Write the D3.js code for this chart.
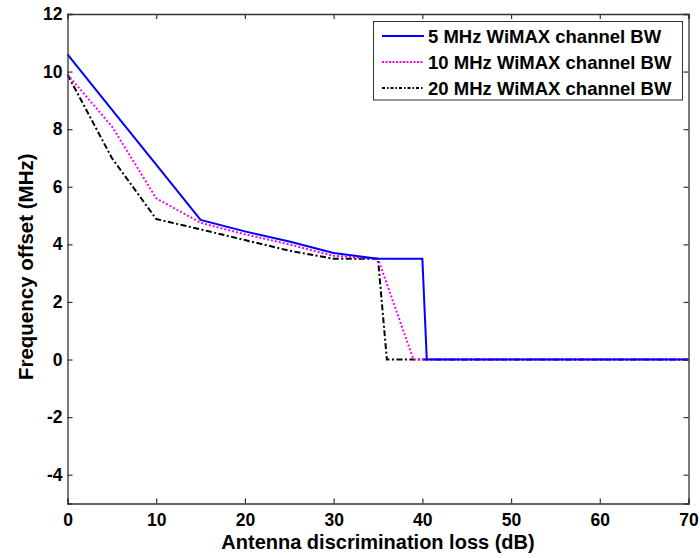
<!DOCTYPE html>
<html>
<head>
<meta charset="utf-8">
<script src="https://cdn.jsdelivr.net/npm/d3@7"></script>
<style>
  html, body { margin: 0; padding: 0; background: #fff; }
  svg { display: block; }
  text { font-family: "Liberation Sans", Arial, sans-serif; font-weight: bold; fill: #000; }
</style>
</head>
<body>
<svg id="chart" width="700" height="558"></svg>
<script>
// ---- data ----
const seriesNames = ["5 MHz WiMAX channel BW", "10 MHz WiMAX channel BW", "20 MHz WiMAX channel BW"];
const x5  = [0, 5, 10, 15, 20, 25, 30, 35, 40, 40.5, 70];
const y5  = [10.6, 8.68, 6.77, 4.85, 4.45, 4.1, 3.7, 3.5, 3.5, 0, 0];
const x10 = [0, 5, 10, 15, 20, 25, 30, 35, 39, 70];
const y10 = [9.9, 8.1, 5.6, 4.75, 4.35, 4.0, 3.6, 3.5, 0, 0];
const x20 = [0, 5, 10, 15, 20, 25, 30, 35, 36, 70];
const y20 = [9.9, 7.0, 4.88, 4.52, 4.15, 3.78, 3.5, 3.5, 0, 0];
const xTicks = [0, 10, 20, 30, 40, 50, 60, 70];
const yTicks = [-4, -2, 0, 2, 4, 6, 8, 10, 12];
const xLabel = "Antenna discrimination loss (dB)";
const yLabel = "Frequency offset (MHz)";

// ---- layout ----
const svg = d3.select("#chart");
const L = 67.5, R = 688.5, T = 14, B = 503.5;
const x = d3.scaleLinear().domain([0, 70]).range([L, R]);
const y = d3.scaleLinear().domain([-5, 12]).range([B, T]);
const axisColor = "#333";

const styles = [
  { color: "#0000ff", dash: null },
  { color: "#ff00ff", dash: "2,2" },
  { color: "#000000", dash: "6,2.5,2,2.5" }
];
const data = [
  x5.map((v, i) => [v, y5[i]]),
  x10.map((v, i) => [v, y10[i]]),
  x20.map((v, i) => [v, y20[i]])
];

// plot background
svg.append("rect").attr("x", L).attr("y", T).attr("width", R - L).attr("height", B - T).attr("fill", "#fff");

// lines
const line = d3.line().x(d => x(d[0])).y(d => y(d[1]));
const plot = svg.append("g");
[2, 1, 0].forEach(i => {
  plot.append("path").datum(data[i])
    .attr("d", line)
    .attr("fill", "none")
    .attr("stroke", styles[i].color)
    .attr("stroke-width", 2)
    .attr("stroke-dasharray", styles[i].dash);
});

// axes
const tl = 5;
const fmt = d => String(d);
const gB = svg.append("g").attr("transform", `translate(0,${B})`)
  .call(d3.axisBottom(x).tickValues(xTicks).tickSize(-tl).tickPadding(10).tickFormat(fmt));
const gT = svg.append("g").attr("transform", `translate(0,${T})`)
  .call(d3.axisTop(x).tickValues(xTicks).tickSize(-tl).tickFormat(""));
const gL = svg.append("g").attr("transform", `translate(${L},0)`)
  .call(d3.axisLeft(y).tickValues(yTicks).tickSize(-tl).tickPadding(5).tickFormat(fmt));
const gR = svg.append("g").attr("transform", `translate(${R},0)`)
  .call(d3.axisRight(y).tickValues(yTicks).tickSize(-tl).tickFormat(""));
[gB, gT, gL, gR].forEach(g => {
  g.select(".domain").attr("stroke", axisColor).attr("stroke-width", 1.3);
  g.selectAll(".tick line").attr("stroke", axisColor).attr("stroke-width", 1.2);
  g.selectAll(".tick text").style("font-family", '"Liberation Sans", Arial, sans-serif')
    .style("font-weight", "bold").style("font-size", "17.5px").attr("fill", "#000");
});
gB.selectAll(".tick text").attr("dy", "0.71em");

// axis titles
svg.append("text").attr("x", (L + R) / 2).attr("y", 549)
  .attr("text-anchor", "middle").style("font-size", "20px").text(xLabel);
svg.append("text").attr("transform", `translate(33,${(T + B) / 2 + 8}) rotate(-90)`)
  .attr("text-anchor", "middle").style("font-size", "20.5px").text(yLabel);

// legend
const lg = svg.append("g");
lg.append("rect").attr("x", 373.5).attr("y", 21.5).attr("width", 309).attr("height", 78.5)
  .attr("fill", "#fff").attr("stroke", axisColor).attr("stroke-width", 1);
seriesNames.forEach((name, i) => {
  const cy = 36 + i * 26;
  lg.append("line").attr("x1", 382).attr("x2", 424).attr("y1", cy).attr("y2", cy)
    .attr("stroke", styles[i].color).attr("stroke-width", 2)
    .attr("stroke-dasharray", i === 0 ? null : (i === 1 ? "2,1.5" : "3,2,1.5,2"));
  lg.append("text").attr("x", 428).attr("y", cy).attr("dy", "0.36em")
    .style("font-size", "18.5px").text(name);
});
</script>
</body>
</html>
